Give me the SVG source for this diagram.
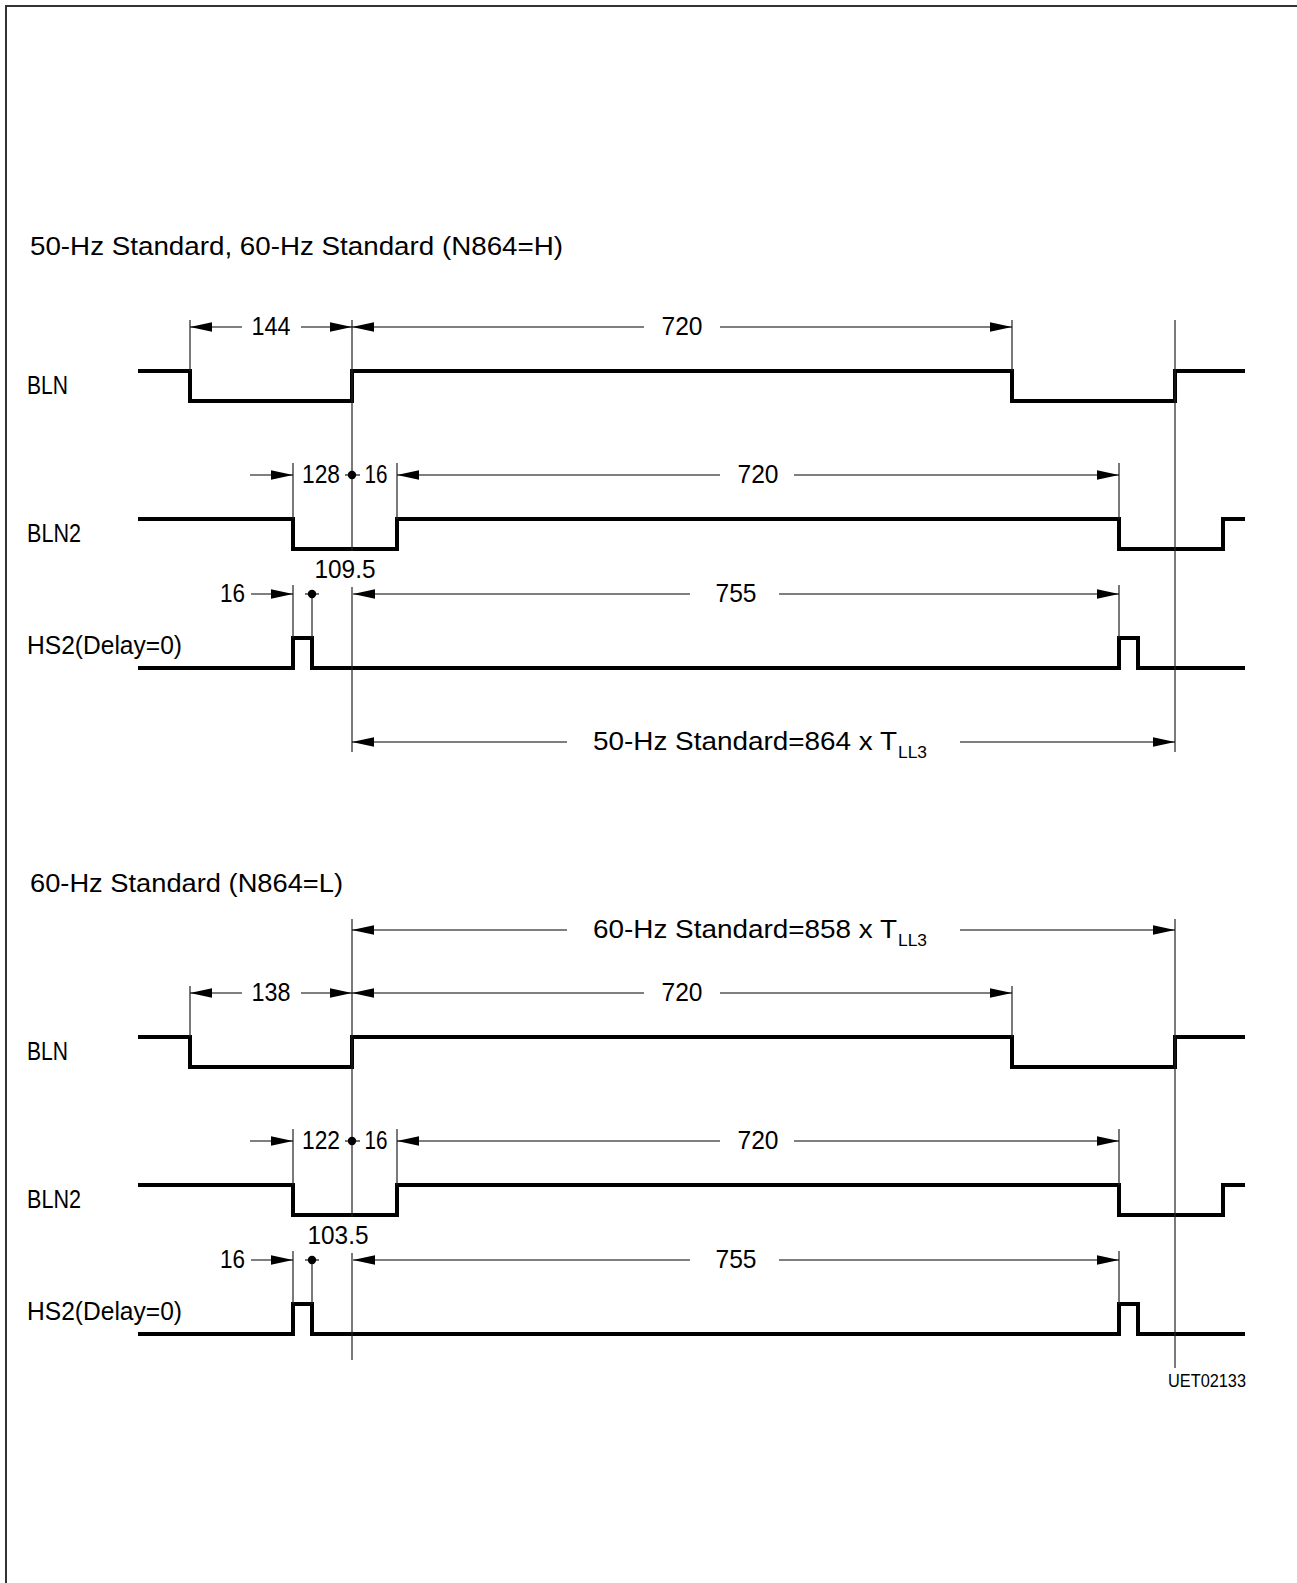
<svg xmlns="http://www.w3.org/2000/svg" width="1297" height="1583" viewBox="0 0 1297 1583">
<defs>
<marker id="ah" viewBox="0 -5 22 10" refX="22" refY="0" markerWidth="22" markerHeight="10" markerUnits="userSpaceOnUse" orient="auto-start-reverse">
<path d="M0,-4.8 L22,0 L0,4.8 z" fill="#000"/>
</marker>
</defs>
<style>
.wave{fill:none;stroke:#000;stroke-width:4;stroke-linejoin:miter}
.ext{stroke:#222;stroke-width:1.2;fill:none}
.dim{stroke:#000;stroke-width:1.1;fill:none}
.ae{marker-end:url(#ah)}
.as{marker-start:url(#ah)}
text{font-family:"Liberation Sans","DejaVu Sans",Arial,sans-serif;fill:#000}
.t{font-size:26px}
.lbl{font-size:25px}
.sub{font-size:17px}
.c{text-anchor:middle}
</style>
<rect width="1297" height="1583" fill="#fff"/>
<g id="frame">
<path d="M6,1583 V6 H1297" fill="none" stroke="#333" stroke-width="2"/>
</g>

<g id="titles">
<text class="t" x="30" y="255" textLength="533" lengthAdjust="spacingAndGlyphs">50-Hz Standard, 60-Hz Standard (N864=H)</text>
<text class="t" x="30" y="892" textLength="313" lengthAdjust="spacingAndGlyphs">60-Hz Standard (N864=L)</text>
<text x="1168" y="1387" font-size="18" textLength="78" lengthAdjust="spacingAndGlyphs">UET02133</text>
</g>

<!-- TOP SECTION -->
<g id="top-signals">
<g id="top-BLN">
<text class="lbl" x="27" y="394" textLength="41" lengthAdjust="spacingAndGlyphs">BLN</text>
<path class="wave" d="M138,371 H190 V401 H352 V371 H1012 V401 H1175 V371 H1245"/>
</g>
<g id="top-BLN2">
<text class="lbl" x="27" y="542" textLength="54" lengthAdjust="spacingAndGlyphs">BLN2</text>
<path class="wave" d="M138,519 H293 V549 H397 V519 H1119 V549 H1223 V519 H1245"/>
</g>
<g id="top-HS2">
<text class="lbl" x="27" y="654" textLength="155" lengthAdjust="spacingAndGlyphs">HS2(Delay=0)</text>
<path class="wave" d="M138,668 H293 V638 H312 V668 H1119 V638 H1138 V668 H1245"/>
</g>
</g>

<g id="top-connectors">
<path class="ext" d="M190,320 V371 M352,320 V551 M352,587 V752 M1012,320 V371 M293,463 V519 M397,463 V519 M1119,463 V519 M293,585 V638 M312,594 V638 M1119,585 V638"/>
<path class="ext" d="M1175,320 V752" stroke="#555" stroke-width="1.5"/>
<!-- 144 / 720 -->
<line class="dim as" x1="190" y1="327" x2="242" y2="327"/>
<line class="dim ae" x1="301" y1="327" x2="352" y2="327"/>
<line class="dim as" x1="352" y1="327" x2="644" y2="327"/>
<line class="dim ae" x1="720" y1="327" x2="1012" y2="327"/>
<!-- 128 / 16 / 720 -->
<line class="dim ae" x1="250" y1="475" x2="293" y2="475"/>
<line class="dim" x1="345" y1="475" x2="360" y2="475"/>
<circle cx="352" cy="475" r="4.2" fill="#000"/>
<line class="dim as" x1="397" y1="475" x2="720" y2="475"/>
<line class="dim ae" x1="794" y1="475" x2="1119" y2="475"/>
<!-- 16 / 109.5 / 755 -->
<line class="dim ae" x1="251" y1="594" x2="293" y2="594"/>
<line class="dim" x1="305" y1="594" x2="319" y2="594"/>
<circle cx="312" cy="594" r="4.2" fill="#000"/>
<line class="dim as" x1="353" y1="594" x2="690" y2="594"/>
<line class="dim ae" x1="779" y1="594" x2="1119" y2="594"/>
<!-- period -->
<line class="dim as" x1="352" y1="742" x2="567" y2="742"/>
<line class="dim ae" x1="960" y1="742" x2="1175" y2="742"/>
</g>

<g id="top-labels">
<text class="t c" x="271" y="335" textLength="39" lengthAdjust="spacingAndGlyphs">144</text>
<text class="t c" x="682" y="335" textLength="41" lengthAdjust="spacingAndGlyphs">720</text>
<text class="t c" x="321" y="483" textLength="38" lengthAdjust="spacingAndGlyphs">128</text>
<text class="t c" x="376" y="483" textLength="23" lengthAdjust="spacingAndGlyphs">16</text>
<text class="t c" x="758" y="483" textLength="41" lengthAdjust="spacingAndGlyphs">720</text>
<text class="t" x="220" y="602" textLength="25" lengthAdjust="spacingAndGlyphs">16</text>
<text class="t c" x="345" y="578" textLength="61" lengthAdjust="spacingAndGlyphs">109.5</text>
<text class="t c" x="736" y="602" textLength="41" lengthAdjust="spacingAndGlyphs">755</text>
<text class="t" x="593" y="750"><tspan textLength="304" lengthAdjust="spacingAndGlyphs">50-Hz Standard=864 x T</tspan><tspan class="sub" x="898" y="758" textLength="29" lengthAdjust="spacingAndGlyphs">LL3</tspan></text>
</g>

<!-- BOTTOM SECTION -->
<g id="bottom-signals">
<g id="bot-BLN">
<text class="lbl" x="27" y="1060" textLength="41" lengthAdjust="spacingAndGlyphs">BLN</text>
<path class="wave" d="M138,1037 H190 V1067 H352 V1037 H1012 V1067 H1175 V1037 H1245"/>
</g>
<g id="bot-BLN2">
<text class="lbl" x="27" y="1208" textLength="54" lengthAdjust="spacingAndGlyphs">BLN2</text>
<path class="wave" d="M138,1185 H293 V1215 H397 V1185 H1119 V1215 H1223 V1185 H1245"/>
</g>
<g id="bot-HS2">
<text class="lbl" x="27" y="1320" textLength="155" lengthAdjust="spacingAndGlyphs">HS2(Delay=0)</text>
<path class="wave" d="M138,1334 H293 V1304 H312 V1334 H1119 V1304 H1138 V1334 H1245"/>
</g>
</g>

<g id="bottom-connectors">
<path class="ext" d="M190,986 V1037 M352,919 V1217 M352,1253 V1360 M1012,986 V1037 M293,1129 V1185 M397,1129 V1185 M1119,1129 V1185 M293,1251 V1304 M312,1260 V1304 M1119,1251 V1304"/>
<path class="ext" d="M1175,919 V1368" stroke="#555" stroke-width="1.5"/>
<!-- period -->
<line class="dim as" x1="352" y1="930" x2="567" y2="930"/>
<line class="dim ae" x1="960" y1="930" x2="1175" y2="930"/>
<!-- 138 / 720 -->
<line class="dim as" x1="190" y1="993" x2="242" y2="993"/>
<line class="dim ae" x1="301" y1="993" x2="352" y2="993"/>
<line class="dim as" x1="352" y1="993" x2="644" y2="993"/>
<line class="dim ae" x1="720" y1="993" x2="1012" y2="993"/>
<!-- 122 / 16 / 720 -->
<line class="dim ae" x1="250" y1="1141" x2="293" y2="1141"/>
<line class="dim" x1="345" y1="1141" x2="360" y2="1141"/>
<circle cx="352" cy="1141" r="4.2" fill="#000"/>
<line class="dim as" x1="397" y1="1141" x2="720" y2="1141"/>
<line class="dim ae" x1="794" y1="1141" x2="1119" y2="1141"/>
<!-- 16 / 103.5 / 755 -->
<line class="dim ae" x1="251" y1="1260" x2="293" y2="1260"/>
<line class="dim" x1="305" y1="1260" x2="319" y2="1260"/>
<circle cx="312" cy="1260" r="4.2" fill="#000"/>
<line class="dim as" x1="353" y1="1260" x2="690" y2="1260"/>
<line class="dim ae" x1="779" y1="1260" x2="1119" y2="1260"/>
</g>

<g id="bottom-labels">
<text class="t" x="593" y="938"><tspan textLength="304" lengthAdjust="spacingAndGlyphs">60-Hz Standard=858 x T</tspan><tspan class="sub" x="898" y="946" textLength="29" lengthAdjust="spacingAndGlyphs">LL3</tspan></text>
<text class="t c" x="271" y="1001" textLength="39" lengthAdjust="spacingAndGlyphs">138</text>
<text class="t c" x="682" y="1001" textLength="41" lengthAdjust="spacingAndGlyphs">720</text>
<text class="t c" x="321" y="1149" textLength="38" lengthAdjust="spacingAndGlyphs">122</text>
<text class="t c" x="376" y="1149" textLength="23" lengthAdjust="spacingAndGlyphs">16</text>
<text class="t c" x="758" y="1149" textLength="41" lengthAdjust="spacingAndGlyphs">720</text>
<text class="t" x="220" y="1268" textLength="25" lengthAdjust="spacingAndGlyphs">16</text>
<text class="t c" x="338" y="1244" textLength="61" lengthAdjust="spacingAndGlyphs">103.5</text>
<text class="t c" x="736" y="1268" textLength="41" lengthAdjust="spacingAndGlyphs">755</text>
</g>
</svg>
